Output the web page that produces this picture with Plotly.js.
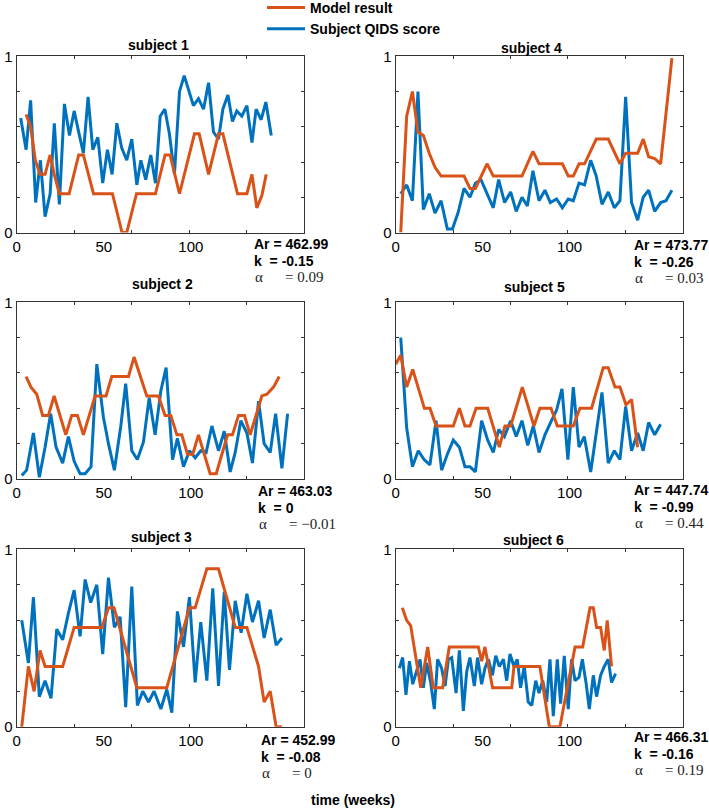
<!DOCTYPE html>
<html>
<head>
<meta charset="utf-8">
<script src="https://cdn.plot.ly/plotly-3.0.1.min.js"></script>
<style>html,body{margin:0;padding:0;background:#fff;}</style>
</head>
<body>
<div id="chart" style="width:709px;height:809px;"></div>
<script>
// ---------------- data (time in weeks, scores normalised 0..1) ----------------
const s1_qids_x = [2.3,5.4,8.0,10.9,13.6,16.3,19.2,21.6,24.5,27.4,30.3,33.0,35.6,38.3,41.0,43.7,46.6,49.4,52.1,54.8,57.5,60.3,63.2,66.1,69.0,71.3,74.1,77.0,79.7,82.4,85.1,87.7,90.6,93.5,96.2,98.9,101.5,104.4,107.3,110.2,113.0,115.9,118.4,121.3,123.9,126.4,129.3,132.2,135.1,137.5,140.4,143.1,146.2];
const s1_qids_y = [0.65,0.47,0.75,0.17,0.41,0.09,0.22,0.62,0.16,0.73,0.55,0.69,0.57,0.45,0.77,0.47,0.54,0.28,0.47,0.33,0.62,0.48,0.41,0.53,0.27,0.41,0.30,0.44,0.28,0.66,0.70,0.56,0.33,0.80,0.89,0.81,0.72,0.76,0.70,0.85,0.57,0.53,0.70,0.78,0.63,0.69,0.66,0.72,0.51,0.70,0.64,0.74,0.55];
const s1_model_x = [5.4,8.0,10.7,13.4,16.3,19.2,21.6,24.5,30.1,35.6,38.3,44.1,55.0,60.5,63.2,68.8,79.7,85.2,88.1,93.5,102.1,104.8,110.2,115.9,118.4,126.8,132.2,135.1,137.9,140.8,143.3];
const s1_model_y = [0.67,0.60,0.41,0.33,0.33,0.44,0.33,0.22,0.22,0.44,0.44,0.22,0.22,0,0,0.22,0.22,0.44,0.44,0.22,0.56,0.56,0.33,0.56,0.56,0.22,0.22,0.33,0.14,0.21,0.33];

const s2_qids_x = [2.9,5.7,9.6,13.0,16.3,19.5,22.6,26.4,29.7,33.0,36.4,39.3,42.7,46.0,49.8,52.7,56.1,59.8,62.6,66.1,69.3,72.8,76.1,79.5,82.8,85.8,89.5,92.3,95.8,99.2,102.5,105.7,108.8,112.1,115.9,119.2,122.6,125.5,128.7,132.2,135.4,138.9,142.1,145.6,148.7,152.3,155.6];
const s2_qids_y = [0.02,0.05,0.26,0.01,0.18,0.37,0.18,0.09,0.24,0.10,0.03,0.03,0.07,0.65,0.35,0.20,0.05,0.30,0.54,0.16,0.11,0.21,0.46,0.25,0.50,0.63,0.11,0.23,0.07,0.16,0.12,0.16,0.15,0.30,0.16,0.27,0.04,0.15,0.33,0.26,0.09,0.44,0.20,0.15,0.37,0.06,0.37];
const s2_model_x = [5.4,8.2,11.5,14.9,18.2,21.5,28.2,31.6,34.9,38.3,45.0,51.3,54.6,64.2,67.4,74.7,81.4,85.2,88.5,92.0,94.8,98.1,101.1,104.4,111.1,114.6,121.1,123.9,127.4,130.8,134.1,140.8,143.7,147.5,150.8];
const s2_model_y = [0.58,0.52,0.48,0.36,0.36,0.47,0.25,0.36,0.36,0.25,0.47,0.47,0.58,0.58,0.69,0.47,0.47,0.36,0.36,0.25,0.25,0.14,0.14,0.25,0.03,0.03,0.25,0.25,0.36,0.36,0.25,0.47,0.48,0.52,0.58];

const s3_qids_x = [2.9,6.7,9.6,13.0,16.3,19.7,23.0,26.4,29.7,33.0,36.4,39.3,42.5,46.0,49.4,52.7,56.1,59.4,62.6,66.1,69.3,72.4,75.7,78.9,82.8,86.2,89.1,92.3,95.8,99.2,102.5,105.7,109.2,112.6,115.9,119.2,122.2,125.5,128.9,132.2,135.4,138.9,142.1,145.6,149.0,152.3];
const s3_qids_y = [0.60,0.36,0.73,0.17,0.26,0.16,0.55,0.49,0.64,0.77,0.51,0.83,0.70,0.80,0.41,0.84,0.56,0.62,0.11,0.79,0.12,0.20,0.14,0.20,0.10,0.21,0.08,0.65,0.45,0.73,0.25,0.59,0.26,0.78,0.23,0.76,0.32,0.71,0.53,0.75,0.59,0.71,0.50,0.66,0.46,0.50];
const s3_model_x = [2.9,6.7,10.0,13.4,16.3,26.4,33.0,48.9,52.7,55.9,69.0,86.2,99.2,102.5,109.2,115.9,125.5,132.2,138.9,142.1,145.6,149.0,152.3];
const s3_model_y = [0,0.34,0.20,0.43,0.34,0.34,0.56,0.56,0.67,0.67,0.22,0.22,0.67,0.67,0.89,0.89,0.56,0.56,0.34,0.14,0.20,0,0];

const s4_qids_x = [2.9,6.3,9.6,12.8,15.9,19.3,22.6,26.1,29.7,32.6,35.8,39.3,42.7,45.8,49.0,52.5,56.1,59.2,62.6,66.1,69.3,72.6,75.7,78.9,82.4,85.8,88.9,92.5,95.8,99.2,102.1,105.4,108.6,112.1,115.3,118.6,122.2,125.7,128.9,132.2,135.6,139.1,142.3,145.4,148.9,152.3,155.4,158.8];
const s4_qids_y = [0.22,0.27,0.18,0.80,0.13,0.22,0.11,0.18,0.02,0.02,0.11,0.25,0.20,0.28,0.30,0.22,0.14,0.30,0.17,0.23,0.12,0.20,0.15,0.35,0.18,0.24,0.17,0.19,0.14,0.19,0.18,0.28,0.27,0.41,0.32,0.16,0.23,0.14,0.18,0.77,0.17,0.07,0.20,0.24,0.12,0.17,0.18,0.24];
const s4_model_x = [2.9,6.3,9.6,12.8,15.9,19.3,22.6,26.1,39.3,42.7,45.8,52.5,56.1,72.6,78.9,82.4,95.8,99.2,102.1,105.4,108.6,115.3,122.2,128.9,132.2,139.1,142.3,145.4,148.9,152.3,158.8];
const s4_model_y = [0,0.66,0.80,0.57,0.55,0.45,0.37,0.32,0.32,0.25,0.25,0.39,0.32,0.32,0.46,0.39,0.39,0.32,0.32,0.39,0.39,0.53,0.53,0.39,0.45,0.45,0.53,0.43,0.42,0.39,0.99];

const s5_qids_x = [2.9,6.3,9.6,13.0,16.3,19.7,23.2,26.4,29.7,33.1,36.6,39.8,42.7,45.8,49.4,52.9,56.1,59.2,62.5,66.1,69.3,72.6,75.9,79.1,82.4,85.8,89.1,92.5,95.6,99.0,102.1,105.4,108.4,112.1,115.3,118.6,122.2,125.7,128.9,132.2,135.6,139.1,142.3,145.4,148.9,152.3];
const s5_qids_y = [0.80,0.29,0.07,0.16,0.11,0.08,0.33,0.05,0.14,0.22,0.18,0.07,0.07,0.04,0.33,0.22,0.15,0.28,0.24,0.33,0.24,0.33,0.19,0.30,0.15,0.25,0.32,0.39,0.51,0.11,0.52,0.18,0.24,0.04,0.26,0.49,0.09,0.16,0.11,0.41,0.16,0.26,0.16,0.32,0.25,0.31];
const s5_model_x = [0,2.9,6.3,9.8,16.5,19.7,23.2,33.1,36.6,39.8,42.7,46.2,52.9,59.6,62.8,66.1,72.8,79.5,82.9,89.3,92.9,102.1,105.9,112.6,119.3,122.2,126.1,128.9,132.4,135.6,139.1];
const s5_model_y = [0.65,0.70,0.52,0.62,0.40,0.40,0.30,0.30,0.40,0.30,0.30,0.40,0.40,0.18,0.30,0.30,0.52,0.30,0.40,0.40,0.30,0.30,0.40,0.40,0.63,0.63,0.52,0.52,0.42,0.45,0.18];

const s6_qids_x = [2.1,4.0,5.9,7.9,9.8,11.7,14.0,15.9,17.8,20.1,22.2,24.1,26.4,28.4,30.3,32.2,34.7,36.6,38.9,40.8,42.7,45.2,47.1,49.4,51.3,53.3,55.6,57.5,59.6,61.9,63.8,65.7,68.0,69.9,71.8,73.9,76.2,78.2,80.5,82.4,84.5,86.8,88.7,90.6,92.9,94.8,96.9,99.2,101.1,103.1,105.4,107.3,109.4,111.3,113.6,115.5,117.8,119.9,122.2,124.1,126.4];
const s6_qids_y = [0.33,0.39,0.18,0.37,0.24,0.30,0.38,0.22,0.36,0.25,0.10,0.38,0.33,0.23,0.38,0.39,0.19,0.43,0.09,0.31,0.39,0.23,0.39,0.24,0.33,0.38,0.29,0.40,0.34,0.38,0.26,0.41,0.34,0.38,0.22,0.34,0.14,0.12,0.26,0.19,0.26,0.14,0.38,0.06,0.38,0.13,0.40,0.10,0.38,0.26,0.28,0.38,0.25,0.10,0.29,0.17,0.29,0.34,0.38,0.25,0.30];
const s6_model_x = [3.8,6.3,8.6,14.4,18.4,21.6,27.0,30.8,47.5,49.4,51.3,55.7,66.7,68.0,82.9,88.3,94.4,103.1,107.5,111.7,113.6,115.5,117.8,119.9,121.6,124.1];
const s6_model_y = [0.67,0.60,0.57,0.22,0.45,0.22,0.22,0.45,0.45,0.37,0.45,0.22,0.22,0.34,0.34,0,0,0.45,0.45,0.67,0.67,0.56,0.56,0.43,0.60,0.34];

const subjectTitles = ['subject 1','subject 2','subject 3','subject 4','subject 5','subject 6'];
const arValues = ['462.99','463.03','452.99','473.77','447.74','466.31'];
const kValues = ['-0.15','0','-0.08','-0.26','-0.99','-0.16'];
const alphaValues = ['0.09','\u22120.01','0','0.03','0.44','0.19'];
const seriesNames = ['Model result','Subject QIDS score'];
const xTickVals = [0,50,100];
const xTickText = ['0','50','100'];
const yTickVals = [0,1];
const yTickText = ['0','1'];

// ---------------- layout / styling ----------------
const W = 709, H = 809;
const fx = v => v / W, fy = v => 1 - v / H;
const BLUE = '#0072BD', ORANGE = '#D95319';
const SANS = 'Liberation Sans, Arial, Helvetica, sans-serif';
const SERIF = 'Liberation Serif, Times New Roman, serif';

const qidsX = [s1_qids_x,s2_qids_x,s3_qids_x,s4_qids_x,s5_qids_x,s6_qids_x];
const qidsY = [s1_qids_y,s2_qids_y,s3_qids_y,s4_qids_y,s5_qids_y,s6_qids_y];
const modelX = [s1_model_x,s2_model_x,s3_model_x,s4_model_x,s5_model_x,s6_model_x];
const modelY = [s1_model_y,s2_model_y,s3_model_y,s4_model_y,s5_model_y,s6_model_y];

const boxes = [
  {x:[16.7,304], y:[56.3,232.5], t:[158,45],  s:[252,243.5]},
  {x:[16.7,304], y:[302.3,479], t:[162,284], s:[256,491]},
  {x:[16.7,304], y:[549.3,726.8], t:[161,537], s:[259,740]},
  {x:[395.7,682.7], y:[56.3,232.5], t:[531,48], s:[632,245]},
  {x:[395.7,682.7], y:[302.3,479], t:[534,287], s:[632,490]},
  {x:[395.7,682.7], y:[549.3,726.8], t:[533,540], s:[632,737]}
];

const traces = [];
const layout = {
  width: W, height: H,
  margin: {l:0, r:0, t:0, b:0, autoexpand:false},
  paper_bgcolor: '#fff', plot_bgcolor: '#fff',
  font: {family: SANS, color: '#000'},
  showlegend: true,
  legend: {x: fx(262), y: 1 + 8 / H, xanchor: 'left', yanchor: 'top',
           font: {family: SANS, size: 14, color: '#000', weight: 'bold'},
           bgcolor: 'rgba(0,0,0,0)', borderwidth: 0, tracegroupgap: 0, itemwidth: 38},
  annotations: []
};

boxes.forEach((b, i) => {
  const n = i + 1;
  const xa = n === 1 ? 'x' : 'x' + n, ya = n === 1 ? 'y' : 'y' + n;
  const xk = n === 1 ? 'xaxis' : 'xaxis' + n, yk = n === 1 ? 'yaxis' : 'yaxis' + n;
  traces.push({x: qidsX[i], y: qidsY[i], xaxis: xa, yaxis: ya, type: 'scatter', mode: 'lines',
    name: seriesNames[1], legendrank: 2, showlegend: i === 0, line: {color: BLUE, width: 3}, hoverinfo: 'skip'});
  traces.push({x: modelX[i], y: modelY[i], xaxis: xa, yaxis: ya, type: 'scatter', mode: 'lines',
    name: seriesNames[0], legendrank: 1, showlegend: i === 0, line: {color: ORANGE, width: 3}, hoverinfo: 'skip'});
  const common = {showline: true, mirror: 'allticks', linecolor: '#333', linewidth: 1,
    showgrid: false, zeroline: false, fixedrange: true,
    tickfont: {family: SANS, size: 15, color: '#000'}, ticks: '', tickmode: 'array'};
  layout[xk] = Object.assign({}, common, {domain: [fx(b.x[0]), fx(b.x[1])], range: [0, 165],
    anchor: ya, tickvals: xTickVals, ticktext: xTickText,
    minor: {tickmode: 'array', tickvals: [33, 66, 99, 132], ticks: 'inside', ticklen: 3, tickcolor: '#333', tickwidth: 1}});
  layout[yk] = Object.assign({}, common, {domain: [fy(b.y[1]), fy(b.y[0])], range: [0, 1],
    anchor: xa, tickvals: yTickVals, ticktext: yTickText,
    minor: {tickmode: 'array', tickvals: [0.2, 0.4, 0.6, 0.8], ticks: 'inside', ticklen: 3, tickcolor: '#333', tickwidth: 1}});

  const A = layout.annotations;
  A.push({xref:'paper', yref:'paper', x: fx(b.t[0]), y: fy(b.t[1]), text: '<b>' + subjectTitles[i] + '</b>',
    showarrow:false, xanchor:'center', yanchor:'middle', font:{family: SANS, size: 14, color:'#000'}});
  A.push({xref:'paper', yref:'paper', x: fx(b.s[0]), y: fy(b.s[1]), text: '<b>Ar = ' + arValues[i] + '</b>',
    showarrow:false, xanchor:'left', yanchor:'middle', font:{family: SANS, size: 14, color:'#000'}});
  A.push({xref:'paper', yref:'paper', x: fx(b.s[0]), y: fy(b.s[1] + 17), text: '<b>k\u00a0\u00a0= ' + kValues[i] + '</b>',
    showarrow:false, xanchor:'left', yanchor:'middle', font:{family: SANS, size: 14, color:'#000'}});
  A.push({xref:'paper', yref:'paper', x: fx(b.s[0] + 1), y: fy(b.s[1] + 33), text: '\u03b1',
    showarrow:false, xanchor:'left', yanchor:'middle', font:{family: SERIF, size: 15, color:'#222'}});
  A.push({xref:'paper', yref:'paper', x: fx(b.s[0] + 31), y: fy(b.s[1] + 33), text: '= ' + alphaValues[i],
    showarrow:false, xanchor:'left', yanchor:'middle', font:{family: SERIF, size: 15, color:'#222'}});
});

layout.annotations.push({xref:'paper', yref:'paper', x: fx(353), y: fy(800), text: '<b>time (weeks)</b>',
  showarrow:false, xanchor:'center', yanchor:'middle', font:{family: SANS, size: 14, color:'#000'}});

Plotly.newPlot('chart', traces, layout, {displayModeBar: false, staticPlot: true});
</script>
</body>
</html>
